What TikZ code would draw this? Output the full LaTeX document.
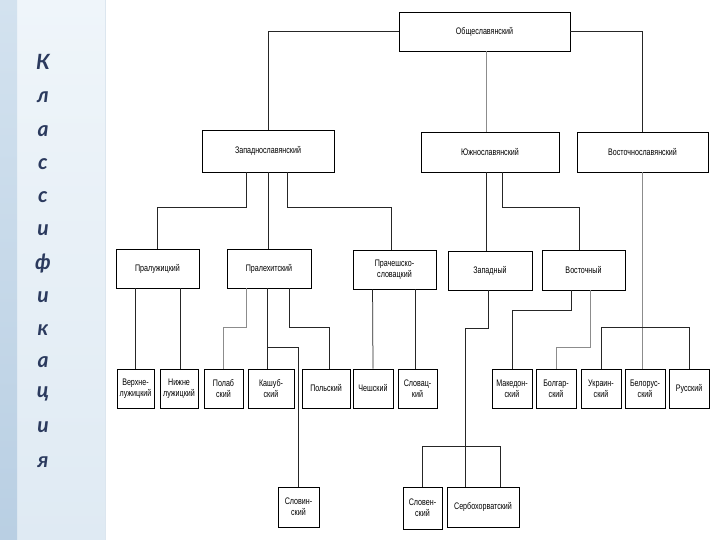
\documentclass[tikz,border=0pt]{standalone}
\usepackage{fontspec}
\setmainfont{Liberation Sans}[FakeStretch=0.75]
\newfontfamily\sidefont{Lato}
\usetikzlibrary{calc}
\definecolor{navy}{HTML}{2B3A5E}
\definecolor{panelT}{HTML}{EFF5FA}
\definecolor{panelB}{HTML}{DFEAF3}
\definecolor{bandT}{HTML}{D3E2EF}
\definecolor{bandB}{HTML}{B9CFE3}
\definecolor{panelEdge}{HTML}{DCE6EF}
\tikzset{
  box/.style={draw=black, line width=0.9pt, fill=white, inner sep=0pt, align=center,
    font=\fontsize{9.5}{11}\selectfont},
  conn/.style={draw=black!85, line width=0.75pt},
  lconn/.style={draw=black!45, line width=0.75pt},
  letter/.style={text=navy, font=\sidefont\bfseries\itshape\fontsize{21}{21}\selectfont, inner sep=0pt}
}
\begin{document}
\begin{tikzpicture}[x=1pt,y=-1pt]
\useasboundingbox (0,0) rectangle (720,540);
% background
\fill[white] (0,0) rectangle (720,540);
\shade[top color=panelT, bottom color=panelB] (17,0) rectangle (105,540);
\shade[top color=bandT, bottom color=bandB] (0,0) rectangle (17,540);
\draw[panelEdge, line width=0.6pt] (105,0) -- (105,540);
% vertical title
\foreach \ch/\yy in {К/62, л/97, а/131, с/164, с/197, и/230, ф/264, и/297, к/330, а/362, ц/394, и/427, я/462}
  \node[letter] at (43,\yy) {\ch};
% boxes
\node[box, minimum width=171, minimum height=39] (top) at (484.5,31.5) {Общеславянский};
\node[box, minimum width=132, minimum height=42] (zap) at (268,151) {Западнославянский};
\node[box, minimum width=138, minimum height=40] (juzh) at (490,152) {Южнославянский};
\node[box, minimum width=131, minimum height=40] (vost) at (642.5,152) {Восточнославянский};
\node[box, minimum width=83, minimum height=39] (pral) at (157.5,268.5) {Пралужицкий};
\node[box, minimum width=84, minimum height=39] (pralekh) at (269,268.5) {Пралехитский};
\node[box, minimum width=83, minimum height=39] (prach) at (394.5,269.5) {Прачешско-\\словацкий};
\node[box, minimum width=84, minimum height=39] (zapad) at (490,270.5) {Западный};
\node[box, minimum width=83, minimum height=40] (vostoch) at (583.5,270) {Восточный};
\node[box, minimum width=37, minimum height=39] (verkh) at (135.5,388.5) {Верхне-\\лужицкий};
\node[box, minimum width=38, minimum height=39] (nizh) at (179,388.5) {Нижне\\лужицкий};
\node[box, minimum width=39, minimum height=39] (polab) at (223.5,388.5) {Полаб\\ский};
\node[box, minimum width=46, minimum height=39] (kash) at (271,388.5) {Кашуб-\\ский};
\node[box, minimum width=48, minimum height=39] (pol) at (326,388.5) {Польский};
\node[box, minimum width=40, minimum height=39] (chesh) at (373,388.5) {Чешский};
\node[box, minimum width=39, minimum height=39] (slovak) at (417.5,388.5) {Словац-\\кий};
\node[box, minimum width=40, minimum height=39] (maked) at (512,388.5) {Македон-\\ский};
\node[box, minimum width=40, minimum height=39] (bolg) at (556,388.5) {Болгар-\\ский};
\node[box, minimum width=40, minimum height=39] (ukr) at (601,388.5) {Украин-\\ский};
\node[box, minimum width=40, minimum height=39] (belo) at (645,388.5) {Белорус-\\ский};
\node[box, minimum width=40, minimum height=39] (rus) at (689,388.5) {Русский};
\node[box, minimum width=41, minimum height=40] (slovin) at (298.5,507) {Словин-\\ский};
\node[box, minimum width=39, minimum height=42] (sloven) at (422.5,508) {Словен-\\ский};
\node[box, minimum width=72, minimum height=40] (serb) at (483,507) {Сербохорватский};
% level 1 -> 2
\draw[conn] (top.west) -| (zap.north);
\draw[lconn] ($(top.south west)+(88,0)$) -- ($(juzh.north west)+(66,0)$);
\draw[conn] (top.east) -| (vost.north);
% level 2 -> 3
\draw[conn] ($(zap.south west)+(45,0)$) -- ++(0,35) -| (pral.north);
\draw[conn] (zap.south) -- (zap.south |- pralekh.north);
\draw[conn] ($(zap.south west)+(86,0)$) -- ++(0,35) -| ($(prach.north west)+(39,0)$);
\draw[conn] ($(juzh.south west)+(66,0)$) -- ($(zapad.north west)+(39,0)$);
\draw[conn] ($(juzh.south west)+(82,0)$) -- ++(0,35) -| ($(vostoch.north west)+(38,0)$);
\draw[lconn] ($(vost.south west)+(66,0)$) -- ($(belo.north west)+(18,0)$);
\draw[conn] (ukr.north) -- ++(0,-41) -| (rus.north);
% level 3 -> 4
\draw[conn] ($(pral.south west)+(20,0)$) -- ($(verkh.north west)+(19,0)$);
\draw[conn] ($(pral.south west)+(65,0)$) -- ($(nizh.north west)+(21,0)$);
\draw[lconn] ($(pralekh.south west)+(20,0)$) -- ++(0,39) -| (polab.north);
\draw[conn] ($(pralekh.south west)+(41,0)$) -- ($(kash.north west)+(20,0)$);
\draw[conn] ($(pralekh.south west)+(41,59)$) -| (slovin.north);
\draw[conn] ($(pralekh.south west)+(63,0)$) -- ++(0,39) -| ($(pol.north west)+(28,0)$);
\draw[conn] ($(prach.south west)+(20,0)$) -- (chesh.north);
\draw[conn] ($(prach.south west)+(63,0)$) -- ($(slovak.north west)+(18,0)$);
\draw[conn] ($(zapad.south west)+(41,0)$) -- ++(0,38) -| ($(serb.north west)+(19,0)$);
\draw[conn] (sloven.north) -- ++(0,-40) -| ($(serb.north west)+(54,0)$);
\draw[conn] ($(vostoch.south west)+(30,0)$) -- ++(0,20) -| (maked.north);
\draw[lconn] ($(vostoch.south west)+(49,0)$) -- ++(0,57) -| (bolg.north);
\end{tikzpicture}
\end{document}
